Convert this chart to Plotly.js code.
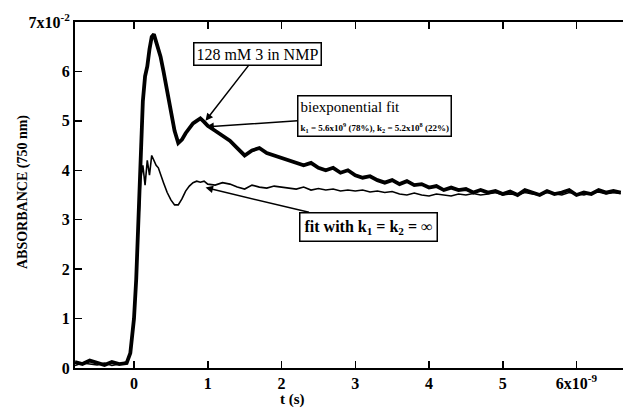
<!DOCTYPE html>
<html>
<head>
<meta charset="utf-8">
<script src="https://cdn.plot.ly/plotly-3.0.1.min.js"></script>
<style>html,body{margin:0;padding:0;background:#fff;}#chart{width:625px;height:413px;}</style>
</head>
<body>
<div id="chart"></div>
<script>
// time in ns (axis labelled in s, 1e-9)
const timeNs = [-0.8,-0.7,-0.6,-0.5,-0.4,-0.3,-0.2,-0.1,-0.05,0,0.03,0.06,0.09,0.12,0.15,0.18,0.21,0.24,0.27,0.30,0.33,0.36,0.40,0.45,0.50,0.55,0.60,0.65,0.70,0.75,0.80,0.85,0.90,0.95,1.0,
1.1,1.2,1.3,1.4,1.5,1.6,1.7,1.8,1.9,2.0,2.1,2.2,2.3,2.4,2.5,2.6,2.7,2.8,2.9,3.0,3.1,3.2,3.3,3.4,3.5,3.6,3.7,3.8,3.9,4.0,4.1,4.2,4.3,4.4,4.5,4.6,4.7,4.8,4.9,5.0,5.1,5.2,5.3,5.4,5.5,5.6,5.7,5.8,5.9,6.0,6.1,6.2,6.3,6.4,6.5,6.6];

// absorbance x1e-2, data 128 mM 3 in NMP (thick trace)
const absData = [0.12,0.08,0.15,0.10,0.06,0.12,0.08,0.10,0.30,1.0,1.8,3.0,4.5,5.4,5.9,6.1,6.45,6.7,6.75,6.6,6.5,6.3,6.0,5.6,5.2,4.8,4.55,4.62,4.75,4.85,4.95,5.0,5.05,4.98,4.9,
4.8,4.7,4.6,4.45,4.3,4.4,4.45,4.35,4.3,4.25,4.2,4.15,4.1,4.15,4.05,4.0,4.05,3.95,4.0,3.9,3.85,3.88,3.8,3.75,3.8,3.72,3.78,3.7,3.72,3.65,3.68,3.6,3.65,3.6,3.62,3.55,3.6,3.55,3.58,3.52,3.57,3.5,3.6,3.55,3.5,3.58,3.52,3.55,3.6,3.5,3.55,3.52,3.6,3.55,3.58,3.55];

// absorbance x1e-2, fit with k1 = k2 = infinity (thin trace)
const absFit = [0.05,0.10,0.08,0.06,0.10,0.05,0.08,0.12,0.30,1.0,1.8,3.0,3.8,4.1,3.7,4.2,3.9,4.3,4.2,4.1,4.05,3.9,3.75,3.55,3.4,3.3,3.3,3.42,3.58,3.68,3.75,3.78,3.76,3.78,3.72,
3.7,3.75,3.72,3.66,3.62,3.7,3.66,3.64,3.68,3.66,3.64,3.62,3.66,3.6,3.63,3.6,3.62,3.58,3.6,3.58,3.6,3.56,3.58,3.55,3.57,3.52,3.5,3.54,3.5,3.48,3.52,3.5,3.48,3.52,3.5,3.53,3.5,3.52,3.55,3.5,3.52,3.5,3.55,3.52,3.5,3.55,3.52,3.5,3.55,3.52,3.5,3.54,3.56,3.52,3.55,3.53];

const xTickVals = [0,1,2,3,4,5,6];
const xTickText = ['0','1','2','3','4','5','6x10<sup>-9</sup>'];
const yTickVals = [0,1,2,3,4,5,6,7];
const yTickText = ['0','1','2','3','4','5','6','7x10<sup>-2</sup>'];

const serif = 'Liberation Serif, Times New Roman, serif';

const traces = [
  {x: timeNs, y: absFit, type: 'scatter', mode: 'lines', line: {color: '#000', width: 1.6}, hoverinfo: 'skip'},
  {x: timeNs, y: absData, type: 'scatter', mode: 'lines', line: {color: '#000', width: 3.8}, hoverinfo: 'skip'}
];

const layout = {
  width: 625, height: 413,
  margin: {l: 75, r: 2, t: 22, b: 45},
  paper_bgcolor: '#fff', plot_bgcolor: '#fff',
  showlegend: false,
  xaxis: {
    range: [-0.8, 6.63], tickvals: xTickVals, ticktext: xTickText,
    ticks: 'inside', ticklen: 7, tickwidth: 1.5, tickcolor: '#000',
    showline: true, linewidth: 2, linecolor: '#000', mirror: 'ticks',
    showgrid: false, zeroline: false,
    tickfont: {family: serif, size: 16, color: '#000', weight: 'bold'}
  },
  yaxis: {
    range: [0, 7], tickvals: yTickVals, ticktext: yTickText,
    ticks: 'inside', ticklen: 7, tickwidth: 1.5, tickcolor: '#000',
    showline: true, linewidth: 2, linecolor: '#000',
    showgrid: false, zeroline: false,
    tickfont: {family: serif, size: 16, color: '#000', weight: 'bold'}
  },
  annotations: [
    {xref: 'paper', yref: 'paper', x: (292-75)/548, y: -(399-368)/346, xanchor: 'center', yanchor: 'middle', text: 't (s)', showarrow: false,
     font: {family: serif, size: 15, color: '#000', weight: 'bold'}},
    {xref: 'paper', yref: 'paper', x: -(75-23)/548, y: (368-192)/346, xanchor: 'center', yanchor: 'middle', text: 'ABSORBANCE (750 nm)', textangle: -90, showarrow: false,
     font: {family: serif, size: 14, color: '#000', weight: 'bold'}},
    {x: 0.97, y: 5.0, text: '128 mM 3 in NMP', showarrow: true, arrowhead: 2, arrowsize: 1, arrowwidth: 1.5, arrowcolor: '#000',
     ax: 52, ay: -67, bordercolor: '#000', borderwidth: 1.5, borderpad: 2, bgcolor: '#fff',
     font: {family: serif, size: 16, color: '#000'}},
    {x: 0.98, y: 4.88, text: 'biexponential fit<br><span style="font-size:9px;font-weight:bold">k<sub>1</sub> = 5.6x10<sup>9</sup> (78%), k<sub>2</sub> = 5.2x10<sup>8</sup> (22%)</span>',
     align: 'left', showarrow: true, arrowhead: 2, arrowsize: 1, arrowwidth: 1.5, arrowcolor: '#000',
     ax: 168, ay: -11, bordercolor: '#000', borderwidth: 1.5, borderpad: 2, bgcolor: '#fff',
     font: {family: serif, size: 15, color: '#000'}},
    {x: 0.97, y: 3.65, text: 'fit with k<sub>1</sub> = k<sub>2</sub> = ∞', showarrow: true, arrowhead: 2, arrowsize: 1, arrowwidth: 1.5, arrowcolor: '#000',
     ax: 163, ay: 39, bordercolor: '#000', borderwidth: 1.5, borderpad: 4, bgcolor: '#fff',
     font: {family: serif, size: 16, color: '#000', weight: 'bold'}}
  ]
};

Plotly.newPlot('chart', traces, layout, {staticPlot: true, displayModeBar: false});
</script>
</body>
</html>
